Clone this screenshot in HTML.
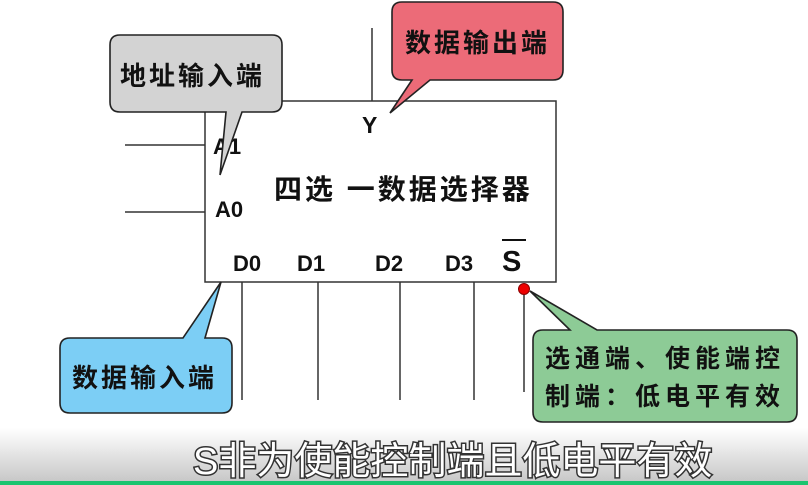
<!DOCTYPE html>
<html><head><meta charset="utf-8"><style>
html,body{margin:0;padding:0;width:808px;height:485px;overflow:hidden;background:#fff}
svg{display:block}
.t{font-family:"Liberation Sans","Noto Sans CJK SC",sans-serif;font-weight:bold;fill:#111}
</style></head><body>
<svg width="808" height="485" viewBox="0 0 808 485">
<defs><linearGradient id="g" x1="0" y1="0" x2="0" y2="1"><stop offset="0" stop-color="#fff"/><stop offset="1" stop-color="#c8c8c8"/></linearGradient></defs>
<g stroke="#333" stroke-width="1.5" fill="none">
<line x1="125" y1="145" x2="205" y2="145"/>
<line x1="125" y1="212" x2="205" y2="212"/>
<line x1="372" y1="28" x2="372" y2="101"/>
<line x1="242" y1="282" x2="242" y2="400"/>
<line x1="318" y1="282" x2="318" y2="400"/>
<line x1="400" y1="282" x2="400" y2="400"/>
<line x1="474" y1="282" x2="474" y2="400"/>
<line x1="524" y1="289" x2="524" y2="392"/>
<rect x="205" y="101" width="351" height="181" fill="#fff"/>
</g>
<circle cx="524" cy="289" r="5.5" fill="#e00" stroke="#800" stroke-width="1"/>
<text class="t" x="362" y="133" font-size="23">Y</text>
<text class="t" x="213" y="154" font-size="22">A1</text>
<text class="t" x="215" y="217" font-size="22">A0</text>
<text class="t" x="274" y="199" font-size="28" letter-spacing="3">四选 一数据选择器</text>
<text class="t" x="233" y="271" font-size="22">D0</text>
<text class="t" x="297" y="271" font-size="22">D1</text>
<text class="t" x="375" y="271" font-size="22">D2</text>
<text class="t" x="445" y="271" font-size="22">D3</text>
<text class="t" x="502" y="271" font-size="29">S</text>
<line x1="502" y1="240" x2="526" y2="240" stroke="#111" stroke-width="2"/>
<g stroke="#222" stroke-width="1.6">
<path d="M120,35 H272 Q282,35 282,45 V102 Q282,112 272,112 H242 L220,175 L226,112 H120 Q110,112 110,102 V45 Q110,35 120,35 Z" fill="#d3d3d3"/>
<path d="M402,2 H553 Q563,2 563,12 V70 Q563,80 553,80 H430 L390,113 L412,80 H402 Q392,80 392,70 V12 Q392,2 402,2 Z" fill="#ec6b78"/>
<path d="M70,338 H183 L221,282 L205,338 H222 Q232,338 232,348 V403 Q232,413 222,413 H70 Q60,413 60,403 V348 Q60,338 70,338 Z" fill="#7ccef5"/>
<path d="M543,330 H570 L530,291 L597,330 H787 Q797,330 797,340 V412 Q797,422 787,422 H543 Q533,422 533,412 V340 Q533,330 543,330 Z" fill="#8dcb96"/>
</g>
<text class="t" x="120" y="85" font-size="26" letter-spacing="3">地址输入端</text>
<text class="t" x="405" y="52" font-size="26" letter-spacing="3">数据输出端</text>
<text class="t" x="72" y="387" font-size="26" letter-spacing="3">数据输入端</text>
<text class="t" x="545" y="367" font-size="25" letter-spacing="5">选通端、使能端控</text>
<text class="t" x="545" y="405" font-size="25" letter-spacing="5">制端：低电平有效</text>
<rect x="0" y="428" width="808" height="53" fill="url(#g)"/>
<rect x="0" y="481" width="808" height="4" fill="#1bc46f"/>
<text x="193" y="474" font-size="38" font-family="'Liberation Sans','Noto Sans CJK SC',sans-serif" fill="#fff" stroke="#333" stroke-width="3" paint-order="stroke">S非为使能控制端且低电平有效</text>
</svg>
</body></html>
